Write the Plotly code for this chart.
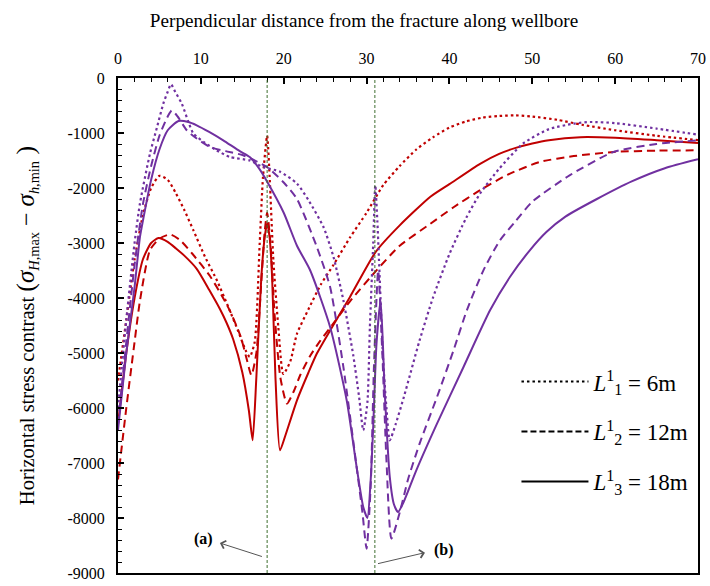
import plotly.graph_objects as go

# ---------------- data ----------------
# Red: fracture (a) at x = 18 ; Purple: fracture (b) at x = 31
r6_x = [0, 1, 2, 3, 4, 5, 6, 7, 8, 9.1, 10.5, 12, 13.3, 14.5, 15.4, 15.9, 16.5, 17.1, 17.5, 18, 18.3,
        18.75, 19.35, 19.95, 20.8, 21.6, 23, 24.5, 26, 28, 30, 32, 34, 36, 38, 40, 42, 44, 46, 48, 50,
        53, 56, 60, 65, 70]
r6_y = [-5500, -4400, -3300, -2500, -2000, -1780, -1850, -2100, -2400, -2770, -3250, -3700, -4160,
        -4600, -4950, -5070, -4800, -3010, -1800, -1050, -1800, -3310, -4530, -5380, -5150, -4650,
        -4200, -3750, -3400, -2900, -2450, -1950, -1600, -1300, -1080, -900, -790, -720, -690, -680,
        -700, -760, -850, -950, -1050, -1130]

r12_x = [0, 1, 2, 2.65, 3.86, 5, 6.3, 7.5, 9, 11.1, 12.5, 13.5, 14.8, 15.6, 16.1, 16.7, 17.3, 17.7,
         18, 18.4, 18.9, 19.6, 20.4, 21.2, 22, 23.2, 24.4, 25.6, 28, 31.2, 34, 37.7, 40.5, 43.7, 47,
         50.9, 55, 59.8, 65, 70]
r12_y = [-7300, -6000, -4800, -4050, -3130, -2920, -2845, -2950, -3200, -3600, -3950, -4230, -4700,
         -5150, -5405, -5000, -3700, -2800, -2450, -3000, -4300, -5450, -5920, -5700, -5400, -5050,
         -4780, -4540, -4060, -3497, -3050, -2650, -2350, -2040, -1760, -1527, -1420, -1345, -1320,
         -1315]

r18_x = [0, 1, 2, 3, 4, 4.9, 6, 7, 8, 9.5, 11, 12.3, 13.1, 13.9, 15, 15.8, 16.25, 16.7, 17.3, 17.7,
         18, 18.3, 18.6, 19, 19.55, 20.2, 21.6, 23, 24, 25.6, 28, 31.1, 34, 37.7, 40, 43.7, 46, 48,
         50, 52, 55.8, 60, 65, 70]
r18_y = [-6300, -5000, -4000, -3300, -3000, -2909, -2980, -3100, -3230, -3470, -3850, -4200, -4450,
         -4750, -5350, -6050, -6587, -5436, -3618, -2900, -2640, -2900, -3618, -5436, -6770, -6500,
         -5860, -5350, -5010, -4590, -3980, -3163, -2680, -2160, -1930, -1560, -1380, -1270, -1190,
         -1130, -1075, -1085, -1130, -1180]

p6_x = [0, 1, 2, 2.65, 3.86, 4.7, 5.47, 6.0, 6.4, 6.9, 7.7, 8.5, 9.1, 10.5, 11.9, 13.5, 15.9, 17.5,
        19.5, 21.6, 23, 24.8, 26, 27.2, 28.4, 29.1, 29.6, 30.1, 30.4, 30.8, 31.05, 31.3, 31.5, 32.0,
        32.4, 32.8, 33.5, 34.5, 36.4, 38, 40, 42, 43.7, 46, 48.9, 52, 55, 57, 60, 65, 70]
p6_y = [-6000, -4400, -3000, -2280, -1375, -900, -466, -250, -115, -250, -466, -800, -1011, -1180,
        -1315, -1436, -1500, -1618, -1700, -1920, -2224, -2710, -3250, -4042, -5050, -5800, -6405,
        -5900, -4527, -3010, -1950, -2600, -3314, -5130, -6000, -6587, -6300, -5800, -4770, -4000,
        -3200, -2550, -2100, -1650, -1190, -930, -830, -800, -820, -920, -1030]

p12_x = [0, 1, 2, 3, 4, 5, 6, 6.5, 7.2, 8.3, 9.5, 11.1, 13, 15.1, 18, 20, 21.6, 24, 25.6, 27.2, 28.8,
         29.5, 30.0, 30.5, 30.9, 31.4, 31.9, 32.4, 33.0, 34, 35, 36.4, 38.5, 40.5, 42.1, 44.1, 46.1,
         48, 50, 54.5, 59.8, 65, 70]
p12_y = [-6300, -4800, -3400, -2300, -1600, -1050, -700, -590, -700, -950, -1100, -1254, -1330,
         -1405, -1620, -1900, -2200, -3073, -3800, -5254, -7073, -7900, -8557, -7400, -5200, -3500,
         -5000, -6950, -8375, -7900, -7300, -6648, -5800, -4950, -4224, -3497, -2950, -2600, -2250,
         -1770, -1345, -1200, -1133]

p18_x = [0, 1, 2, 2.65, 3, 4, 5, 6, 7.3, 8.5, 9.5, 11, 12.7, 14.7, 15.9, 17, 17.9, 20, 21.6, 23.2,
         25.6, 27.6, 28.8, 29.6, 30.1, 30.5, 30.8, 31.2, 31.7, 32.2, 32.8, 33.3, 33.8, 34.5, 36, 38.5,
         41.7, 44.9, 47.3, 49.7, 51.7, 54, 57.8, 62, 66, 70]
p18_y = [-6400, -5000, -3800, -2890, -2600, -1850, -1300, -950, -782, -800, -860, -980, -1133, -1330,
         -1436, -1640, -1860, -2450, -3050, -3500, -4527, -5860, -7073, -7800, -8000, -7300, -6345,
         -4830, -4042, -5740, -7254, -7750, -7890, -7700, -7133, -6284, -5254, -4224, -3618, -3133,
         -2800, -2520, -2200, -1880, -1640, -1478]

fracture_x = [18, 31]
fracture_labels = ["(a)", "(b)"]
x_ticks = [0, 10, 20, 30, 40, 50, 60, 70]
y_ticks = [0, -1000, -2000, -3000, -4000, -5000, -6000, -7000, -8000, -9000]
y_ticktext = ["0", "-1000", "-2000", "-3000", "-4000", "-5000", "-6000", "-7000", "-8000", "-9000"]
legend_names = ["<i>L</i><sup>1</sup><sub>1</sub> = 6m",
                "<i>L</i><sup>1</sup><sub>2</sub> = 12m",
                "<i>L</i><sup>1</sup><sub>3</sub> = 18m"]

# ---------------- styles ----------------
RED = "#c00000"
PURPLE = "#7030a0"
DOT = "2.5px,3px"
DASH = "8px,5px"
FONT = "Liberation Serif"

fig = go.Figure()

series = [
    (r6_x, r6_y, RED, DOT), (r12_x, r12_y, RED, DASH), (r18_x, r18_y, RED, "solid"),
    (p6_x, p6_y, PURPLE, DOT), (p12_x, p12_y, PURPLE, DASH), (p18_x, p18_y, PURPLE, "solid"),
]
for xs, ys, col, dash in series:
    fig.add_trace(go.Scatter(x=xs, y=ys, mode="lines", showlegend=False, hoverinfo="skip",
                             line=dict(color=col, width=2.2 if dash == DOT else 2, dash=dash,
                                       shape="spline", smoothing=0.6)))

# legend entries (black line samples)
for i, (name, dash) in enumerate(zip(legend_names, [DOT, "6px,3px", "solid"])):
    fig.add_trace(go.Scatter(x=[None], y=[None], mode="lines", name=name, legendgroup=str(i),
                             line=dict(color="black", width=2, dash=dash)))

# fracture position lines
for fx in fracture_x:
    fig.add_shape(type="line", xref="x", yref="paper", x0=fx, x1=fx, y0=0, y1=1,
                  line=dict(color="#3f6e2f", width=1, dash="3px,2px"))

# labels (a), (b) with arrows
label_pos = [(10.3, -8390), (39.3, -8575)]
arrow_head = [(12.3, -8455), (37.05, -8630)]
arrow_tail = [(17.55, -8709), (31.2, -8836)]
for lab, (lx, ly), (hx, hy), (tx, ty) in zip(fracture_labels, label_pos, arrow_head, arrow_tail):
    fig.add_annotation(x=lx, y=ly, text="<b>%s</b>" % lab, showarrow=False,
                       font=dict(family=FONT, size=16, color="black"))
    fig.add_annotation(x=hx, y=hy, ax=tx, ay=ty, axref="x", ayref="y", text="",
                       showarrow=True, arrowhead=4, arrowsize=1.6, arrowwidth=1,
                       arrowcolor="#555555", standoff=0, startstandoff=0)

ytitle = ("Horizontal stress contrast <span style='font-size:26px'>(</span>"
          "<span style='font-size:25px'><i>σ</i></span><sub><i>H</i>,max</sub>"
          "<span style='font-size:24px'> − </span>"
          "<span style='font-size:25px'><i>σ</i></span><sub><i>h</i>,min</sub>"
          "<span style='font-size:26px'> )</span>")

fig.update_layout(
    width=710, height=586,
    margin=dict(l=118, r=12, t=78, b=13, autoexpand=False),
    paper_bgcolor="white", plot_bgcolor="white",
    font=dict(family=FONT, color="black"),
    title=dict(text="Perpendicular distance from the fracture along wellbore",
               font=dict(family=FONT, size=19.2, color="black"),
               x=364 / 710, xref="container", xanchor="center",
               y=1 - 20 / 586, yref="container", yanchor="middle"),
    legend=dict(x=0.687, y=0.43, xanchor="left", yanchor="top", bgcolor="rgba(0,0,0,0)",
                font=dict(family=FONT, size=23, color="black"), itemwidth=67,
                tracegroupgap=17),
    xaxis=dict(side="top", range=[0, 70], tickvals=x_ticks, ticks="inside", ticklen=6,
               tickwidth=1.5, tickcolor="black", ticklabelstandoff=6, automargin=False,
               minor=dict(dtick=2, ticks="inside", ticklen=4, tickcolor="black", tickwidth=1),
               showline=True, linecolor="black", linewidth=2, mirror=True,
               showgrid=False, zeroline=False, tickfont=dict(family=FONT, size=16)),
    yaxis=dict(range=[-9000, 0], tickvals=y_ticks, ticktext=y_ticktext, ticks="inside",
               ticklen=6, tickwidth=1.5, tickcolor="black", ticklabelstandoff=8, automargin=False,
               minor=dict(dtick=200, ticks="inside", ticklen=4, tickcolor="black", tickwidth=1),
               showline=True, linecolor="black", linewidth=2, mirror=True,
               showgrid=False, zeroline=False, tickfont=dict(family=FONT, size=16),
               title=dict(text=ytitle, font=dict(family=FONT, size=20.5), standoff=27)),
)

fig.write_html("out.html")
